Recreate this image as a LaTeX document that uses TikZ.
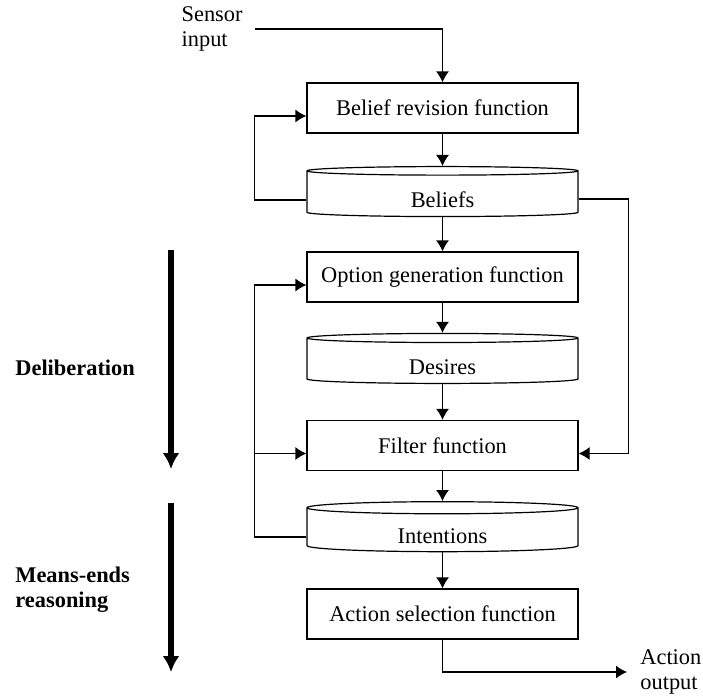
\documentclass[tikz,border=0pt]{standalone}
\usepackage{fontspec}
\setmainfont{Liberation Serif}
\usepackage{tikz}
\usetikzlibrary{positioning,arrows.meta,shapes.geometric}
\tikzset{
funcbox/.style = {rectangle, draw, line width=0.6pt, minimum width=135.5pt, minimum height=25pt, inner sep=0pt},
store/.style = {cylinder, draw, line width=0.6pt, shape border rotate=90, aspect=0.135, minimum width=135.5pt, minimum height=25pt, inner sep=0pt, text height=13pt, text depth=0pt},
arr/.style = {line width=0.6pt, -{Latex[length=5.5pt,width=6.5pt]}},
flow/.style = {line width=3pt, -{Latex[length=8pt,width=8.5pt]}}
}
\begin{document}
\begin{tikzpicture}[x=0.5pt, y=-0.5pt, font=\fontsize{11.2}{12.5}\selectfont]
    \useasboundingbox (0,0) rectangle (703,698);
    % the functions and the stores
    \node [funcbox] (brf) at (442.5,108) {Belief revision function};
    \node [store] (bel) at (442.5,194) {Beliefs};
    \node [funcbox] (ogf) at (442.5,277) {Option generation function};
    \node [store] (des) at (442.5,361) {Desires};
    \node [funcbox] (ff) at (442.5,445.5) {Filter function};
    \node [store] (int) at (442.5,530) {Intentions};
    \node [funcbox] (asf) at (442.5,614) {Action selection function};
    % input and output
    \node [anchor=east, align=left, inner xsep=6pt, inner ysep=0pt] (sensor) at (255,29) {Sensor\\input};
    \node [anchor=west, align=left, inner xsep=6.5pt, inner ysep=0pt] (out) at (627,672) {Action\\output};
    \draw [arr] (sensor.east) -| (brf.north);
    \draw [arr] (brf) -- (bel);
    \draw [arr] (bel) -- (ogf);
    \draw [arr] (ogf) -- (des);
    \draw [arr] (des) -- (ff);
    \draw [arr] (ff) -- (int);
    \draw [arr] (int) -- (asf);
    \draw [arr] (asf.south) |- (out.west);
    % feedback loops
    \draw [arr] ([yshift=-3pt]bel.west) -- ++(-52,0) |- ([yshift=-4pt]brf.west);
    \draw [arr] ([yshift=-3.5pt]int.west) -- ++(-52,0) coordinate (lp) |- ([yshift=-4pt]ogf.west);
    \coordinate (ffin) at ([yshift=-4pt]ff.west);
    \draw [arr] (lp |- ffin) -- (ffin);
    \draw [arr] ([yshift=-2.5pt]bel.east) -- ++(50,0) |- ([yshift=-4pt]ff.east);
    % deliberation and means-ends reasoning
    \coordinate (d1) at (171,250);
    \coordinate (d2) at (171,469);
    \coordinate (m1) at (171,503);
    \coordinate (m2) at (171,672);
    \draw [flow] (d1) -- (d2);
    \draw [flow] (m1) -- (m2);
    \node [anchor=west, font=\fontsize{11.2}{12.5}\selectfont\bfseries, inner sep=0pt] (delib) at (15,368) {Deliberation};
    \node [anchor=west, align=left, font=\fontsize{11.2}{12.5}\selectfont\bfseries, inner sep=0pt] (means) at (15,590) {Means-ends\\reasoning};
\end{tikzpicture}
\end{document}
